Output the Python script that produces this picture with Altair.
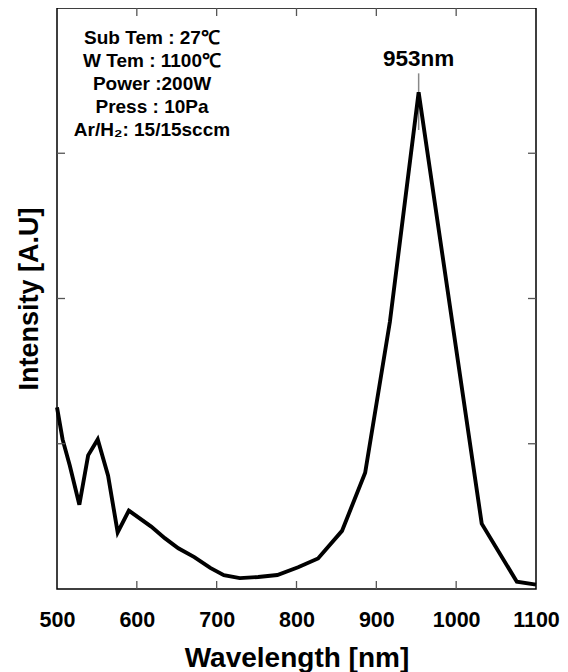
import altair as alt
import pandas as pd

# ---- data ----
wavelength = [500, 507, 516, 528, 539, 551, 564, 576, 590, 618, 635, 652, 672,
              692, 709, 729, 752, 776, 802, 827, 857, 886, 917, 953, 1032, 1076, 1100]
intensity = [1.25, 1.03, 0.85, 0.58, 0.92, 1.03, 0.78, 0.39, 0.54, 0.43, 0.35, 0.28, 0.22,
             0.145, 0.095, 0.075, 0.083, 0.096, 0.15, 0.21, 0.40, 0.80, 1.84, 3.42, 0.45, 0.05, 0.03]

x_label_values = [500, 600, 700, 800, 900, 1000, 1100]
x_tick_values = [600, 700, 800, 900, 1000]
y_tick_values = [1, 2, 3]

condition_lines = ["Sub Tem : 27\u2103", "W Tem : 1100\u2103", "Power :200W",
                   "Press : 10Pa", "Ar/H\u2082: 15/15sccm"]
peak_label = ["953nm"]
peak_wavelength = [953]
peak_marker_top = [3.55]
peak_marker_bottom = [3.16]

W, H = 479, 581
FONT = "Liberation Sans"
TICK_LEN = 8

xs = alt.Scale(domain=[500, 1100], nice=False, zero=False)
ys = alt.Scale(domain=[0, 4], nice=False, zero=False)

x_axis = alt.Axis(
    values=x_label_values, format="d", ticks=False, domain=False, grid=False,
    labelFont=FONT, labelFontSize=21.5, labelFontWeight="bold", labelColor="black",
    labelPadding=20, labelFlush=False, labelOverlap=False,
    title="Wavelength [nm]", titleFont=FONT, titleFontSize=28, titleFontWeight="bold",
    titleColor="black", titlePadding=14)
y_axis = alt.Axis(
    labels=False, ticks=False, domain=False, grid=False,
    title="Intensity [A.U]", titleFont=FONT, titleFontSize=27, titleFontWeight="bold",
    titleColor="black", titlePadding=14)

df = pd.DataFrame({"wl": wavelength, "I": intensity})

line = alt.Chart(df).mark_line(color="black", strokeWidth=3.9).encode(
    x=alt.X("wl:Q", scale=xs, axis=x_axis),
    y=alt.Y("I:Q", scale=ys, axis=y_axis),
)

xt = pd.DataFrame({"t": x_tick_values})
yt = pd.DataFrame({"t": y_tick_values})
tick_style = dict(color="#555555", strokeWidth=1.3)

bottom_ticks = alt.Chart(xt).mark_rule(**tick_style).encode(
    x=alt.X("t:Q", scale=xs, axis=x_axis), y=alt.value(H), y2=alt.value(H - TICK_LEN))
top_ticks = alt.Chart(xt).mark_rule(**tick_style).encode(
    x=alt.X("t:Q", scale=xs, axis=x_axis), y=alt.value(0), y2=alt.value(TICK_LEN))
left_ticks = alt.Chart(yt).mark_rule(**tick_style).encode(
    y=alt.Y("t:Q", scale=ys, axis=y_axis), x=alt.value(0), x2=alt.value(TICK_LEN))
right_ticks = alt.Chart(yt).mark_rule(**tick_style).encode(
    y=alt.Y("t:Q", scale=ys, axis=y_axis), x=alt.value(W - TICK_LEN), x2=alt.value(W))

cond_df = pd.DataFrame({"txt": ["\n".join(condition_lines)]})
conditions = alt.Chart(cond_df).mark_text(
    font=FONT, fontSize=19, fontWeight="bold", color="black",
    align="center", baseline="top", lineBreak="\n", lineHeight=23).encode(
    x=alt.value(95), y=alt.value(21), text="txt:N")

peak_df = pd.DataFrame({"wl": peak_wavelength, "lab": peak_label,
                        "top": peak_marker_top, "bot": peak_marker_bottom})
peak_text = alt.Chart(peak_df).mark_text(
    font=FONT, fontSize=22.5, fontWeight="bold", color="black",
    align="center", baseline="middle").encode(
    x=alt.X("wl:Q", scale=xs, axis=x_axis), y=alt.value(51), text="lab:N")
peak_rule = alt.Chart(peak_df).mark_rule(color="#888888", strokeWidth=1.5).encode(
    x=alt.X("wl:Q", scale=xs, axis=x_axis),
    y=alt.Y("top:Q", scale=ys, axis=y_axis), y2="bot:Q")

chart = alt.layer(
    peak_rule, line, bottom_ticks, top_ticks, left_ticks, right_ticks, conditions, peak_text
).properties(
    width=W, height=H,
    autosize=alt.AutoSizeParams(type="none"),
    padding={"left": 49, "top": 0, "right": 24, "bottom": 83},
).configure_view(stroke="black", strokeWidth=1.5)

chart.save("out.html", embed_options={"renderer": "svg", "actions": False})
